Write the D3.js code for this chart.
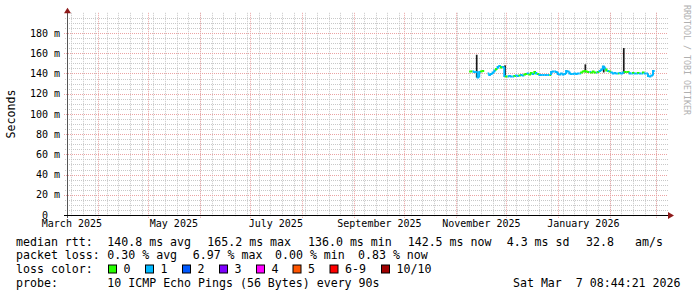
<!DOCTYPE html>
<html>
<head>
<meta charset="utf-8">
<script src="https://cdn.jsdelivr.net/npm/d3@7"></script>
<style>
  body { margin: 0; background: #fff; }
  text { font-family: "DejaVu Sans Mono", monospace; white-space: pre; }
</style>
</head>
<body>
<div id="chart"></div>
<script>
// first day of measured data, one value per day after it
const firstDay = new Date(2025, 10, 9);

const medianMs = [
  142, 142, 142, 141.5, 141.5, 136, 141.5, 142, 142.5, null,
  null, 140, 138.5, 139.5, 141, 143, 144.5, 146.5, 147.5, 146,
  146.5, 137.5, 137, 137, 137.5, 137, 137, 137.5, 138, 137.5,
  138, 138.5, 138, 139, 139.5, 140, 139, 140.5, 139.5, 141.5,
  140, 139.5, 138.5, 138.5, 138.5, 138.5, 138.5, 138.5, 138.5, 141.5,
  142, 142, 141.5, 139.5, 139, 140, 139, 139.5, 142.5, 142,
  140, 139.5, 139.5, 140, 139.5, 140, 140, 141, 142, 142.5,
  142, 141.5, 141.5, 141, 142, 141, 141, 141.5, 142.5, 144,
  147, 145, 143, 142.5, 142, 141, 140, 140.5, 140, 140,
  140.5, 140, 141, 141.5, 141.5, 141.5, 140, 140, 140.5, 140,
  140, 140.5, 140, 140, 141, 140, 140, 137.5, 137, 138,
  142.5
];

const lossCount = [
  0, 0, 1, 1, 1, 1, 1, 0, 0, 0,
  0, 1, 1, 1, 1, 1, 0, 1, 1, 0,
  1, 1, 0, 1, 1, 1, 1, 0, 1, 1,
  0, 1, 1, 0, 0, 1, 0, 0, 1, 0,
  1, 0, 1, 1, 1, 1, 1, 1, 0, 1,
  1, 1, 1, 1, 1, 1, 1, 1, 1, 1,
  1, 1, 1, 1, 1, 1, 1, 0, 0, 0,
  0, 0, 1, 0, 0, 0, 1, 0, 1, 1,
  1, 1, 0, 1, 0, 1, 1, 1, 1, 0,
  1, 1, 1, 0, 0, 0, 1, 1, 0, 1,
  1, 0, 1, 1, 0, 1, 1, 1, 1, 1,
  1
];

// days with visible smoke (ping spread)
const smokeDays = [4, 21, 69, 80, 92];
const smokeLow = [136, 137, 141, 141, 140];
const smokeHigh = [158.5, 148, 149, 147.5, 165.2];

const yTicks = [0, 20, 40, 60, 80, 100, 120, 140, 160, 180];
const labelMonths = ["2025-03", "2025-05", "2025-07", "2025-09", "2025-11", "2026-01"];

const lossLabels = ["0", "1", "2", "3", "4", "5", "6-9", "10/10"];
const lossColors = ["#26ff00", "#00b8ff", "#0059ff", "#7e00ff", "#ff00ff", "#ff5500", "#ff0000", "#a10000"];

const rttRow = ["median rtt:", "140.8 ms avg", "165.2 ms max", "136.0 ms min", "142.5 ms now", "4.3 ms sd", "32.8", "am/s"];
const lossRow = ["packet loss:", "0.30 % avg", "6.97 % max", "0.00 % min", "0.83 % now"];
const probeRow = ["probe:", "10 ICMP Echo Pings (56 Bytes) every 90s"];
const stamp = "Sat Mar  7 08:44:21 2026";

const W = 697, H = 297;
const L = 67, R = 667, T = 12.8, B = 215;

const x = d3.scaleTime()
  .domain([new Date(2025, 2, 13, 8, 44, 21), new Date(2026, 2, 7, 8, 44, 21)])
  .range([L, R]);
const y = d3.scaleLinear().domain([0, 200]).range([B, T]);

const svg = d3.select("#chart").append("svg")
  .attr("width", W).attr("height", H)
  .style("background", "#fff");

const crisp = v => Math.round(v) + 0.5;
const minorCol = "#c8c8c8", majorCol = "#eba3a3";

// minor grid
const minorH = d3.range(5, 200, 5).filter(v => v % 20 !== 0);
svg.append("g").selectAll("line").data(minorH).enter().append("line")
  .attr("x1", L - 2).attr("x2", R + 1)
  .attr("y1", d => crisp(y(d))).attr("y2", d => crisp(y(d)))
  .attr("stroke", minorCol).attr("stroke-dasharray", "1,1");

const weeks = d3.timeWeek.range(x.domain()[0], x.domain()[1]);
svg.append("g").selectAll("line").data(weeks).enter().append("line")
  .attr("x1", d => crisp(x(d))).attr("x2", d => crisp(x(d)))
  .attr("y1", T).attr("y2", B + 2)
  .attr("stroke", minorCol).attr("stroke-dasharray", "1,1");

// major grid
svg.append("g").selectAll("line").data(yTicks.filter(v => v > 0)).enter().append("line")
  .attr("x1", L - 3).attr("x2", R + 1)
  .attr("y1", d => crisp(y(d))).attr("y2", d => crisp(y(d)))
  .attr("stroke", majorCol).attr("stroke-dasharray", "1,1");

const months = d3.timeMonth.range(x.domain()[0], x.domain()[1]);
svg.append("g").selectAll("line").data(months).enter().append("line")
  .attr("x1", d => crisp(x(d))).attr("x2", d => crisp(x(d)))
  .attr("y1", T).attr("y2", B + 3)
  .attr("stroke", majorCol).attr("stroke-dasharray", "1,1");

// data
const days = medianMs.map((v, i) => d3.timeDay.offset(firstDay, i));

svg.append("g").selectAll("rect").data(smokeDays).enter().append("rect")
  .attr("x", d => x(days[d]))
  .attr("width", d => x(d3.timeDay.offset(days[d], 1)) - x(days[d]))
  .attr("y", (d, i) => y(smokeHigh[i]))
  .attr("height", (d, i) => y(smokeLow[i]) - y(smokeHigh[i]))
  .attr("fill", "#1a1a1a");

const segs = medianMs.map((v, i) => ({ v, i })).filter(d => d.v !== null);
svg.append("g").selectAll("path").data(segs).enter().append("path")
  .attr("d", d => {
    const x0 = x(days[d.i]);
    const x1 = x(d3.timeDay.offset(days[d.i], 1));
    const prev = d.i > 0 ? medianMs[d.i - 1] : null;
    const y0 = prev !== null ? y(prev) : y(d.v);
    return `M${x0},${y0}V${y(d.v)}H${x1}`;
  })
  .attr("fill", "none")
  .attr("stroke", d => lossColors[lossCount[d.i]])
  .attr("stroke-width", 2);

// axes
const yAxis = svg.append("g")
  .attr("transform", `translate(${L},0)`)
  .call(d3.axisLeft(y).tickValues(yTicks).tickSize(0).tickPadding(7)
    .tickFormat(d => d === 0 ? "0  " : d + " m"));
yAxis.select(".domain").remove();
yAxis.selectAll("text").attr("xml:space", "preserve")
  .attr("font-family", "DejaVu Sans Mono, monospace")
  .attr("font-size", 10).attr("fill", "#000");

const labelDates = labelMonths.map(s => d3.timeParse("%Y-%m")(s));
const xAxis = svg.append("g")
  .attr("transform", `translate(0,${B})`)
  .call(d3.axisBottom(x)
    .tickValues(labelDates.map(d => d3.timeDay.offset(d, 15)))
    .tickSize(0).tickPadding(5)
    .tickFormat(d => d3.timeFormat("%B %Y")(d3.timeMonth.floor(d))));
xAxis.select(".domain").remove();
xAxis.selectAll("text").attr("font-family", "DejaVu Sans Mono, monospace")
  .attr("font-size", 10).attr("fill", "#000");

svg.append("line").attr("x1", L + 0.5).attr("x2", L + 0.5)
  .attr("y1", B + 3).attr("y2", T - 1).attr("stroke", "#555");
svg.append("line").attr("x1", L - 3).attr("x2", R + 2)
  .attr("y1", B + 0.5).attr("y2", B + 0.5).attr("stroke", "#000");
svg.append("path").attr("d", `M${L - 3},${T + 0.5}L${L + 4},${T + 0.5}L${L + 0.5},${T - 5}Z`)
  .attr("fill", "#8e1b1b");
svg.append("path").attr("d", `M${R + 1},${B - 3}L${R + 1},${B + 4}L${R + 7},${B + 0.5}Z`)
  .attr("fill", "#8e1b1b");

// titles
svg.append("text")
  .attr("transform", "translate(14.5,114) rotate(-90)")
  .attr("text-anchor", "middle")
  .attr("font-size", 11.6)
  .text("Seconds");

svg.append("text")
  .attr("transform", "translate(684,5) rotate(90)")
  .attr("font-size", 8.3)
  .attr("fill", "#b0b0b0")
  .text("RRDTOOL / TOBI OETIKER");

// legend
const legend = svg.append("g").attr("font-size", 11.6).attr("fill", "#000");

const rttX = [16, 107.3, 207.3, 308, 407.7, 506.7, 586, 635];
legend.selectAll(".rtt").data(rttRow).enter().append("text")
  .attr("x", (d, i) => rttX[i]).attr("y", 245.5).text(d => d);

const lossX = [16, 107.3, 192.7, 275, 358];
legend.selectAll(".loss").data(lossRow).enter().append("text")
  .attr("x", (d, i) => lossX[i]).attr("y", 259.3).text(d => d);

legend.append("text").attr("x", 16).attr("y", 273).text("loss color:");
const boxX = [108.5, 145.5, 182.5, 219.5, 256.5, 293, 330, 381.5];
const sw = legend.selectAll(".sw").data(lossLabels).enter().append("g");
sw.append("rect")
  .attr("x", (d, i) => boxX[i]).attr("y", 265)
  .attr("width", 8).attr("height", 8)
  .attr("fill", (d, i) => lossColors[i])
  .attr("stroke", "#000").attr("stroke-width", 1);
sw.append("text")
  .attr("x", (d, i) => boxX[i] + 15).attr("y", 273).text(d => d);

const probeX = [16, 107.3];
legend.selectAll(".probe").data(probeRow).enter().append("text")
  .attr("x", (d, i) => probeX[i]).attr("y", 286.7).text(d => d);
legend.append("text").attr("x", 680.5).attr("y", 286.7)
  .attr("text-anchor", "end").attr("xml:space", "preserve").text(stamp);
</script>
</body>
</html>
